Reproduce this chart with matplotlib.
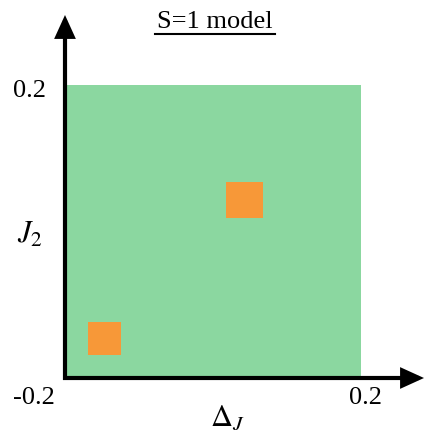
import matplotlib
matplotlib.use("Agg")
import matplotlib.pyplot as plt
from matplotlib.patches import Rectangle, FancyArrowPatch
from matplotlib.lines import Line2D

plt.rcParams["mathtext.fontset"] = "stix"
plt.rcParams["font.family"] = ["Liberation Serif", "DejaVu Serif"]

# Parameter space bounds
x_range = [-0.2, 0.2]
y_range = [-0.2, 0.2]
x_tick_labels = ["-0.2", "0.2"]
y_tick_labels = ["0.2"]

# Highlighted cells: lower-left corners and side lengths
cell_x = [0.017, -0.169]
cell_y = [0.018, -0.168]
cell_size = [0.050, 0.044]

title = "S=1 model"
green = "#8bd7a0"
orange = "#f79838"

W, H = 426, 433
fig = plt.figure(figsize=(W / 100, H / 100), dpi=100)


def fx(px):
    return px / W


def fy(py):
    return 1 - py / H


ax = fig.add_axes([fx(65), fy(378), fx(361) - fx(65), fy(85) - fy(378)])
ax.set_xlim(x_range)
ax.set_ylim(y_range)
ax.axis("off")

ax.add_patch(Rectangle((x_range[0], y_range[0]), x_range[1] - x_range[0],
                       y_range[1] - y_range[0], facecolor=green, edgecolor="none"))
for x0, y0, s in zip(cell_x, cell_y, cell_size):
    ax.add_patch(Rectangle((x0, y0), s, s, facecolor=orange, edgecolor="none"))

# Axis arrows
arrow = dict(arrowstyle="-|>,head_length=1.1,head_width=0.5", color="black",
             lw=3, shrinkA=0, shrinkB=0, mutation_scale=11, joinstyle="miter",
             capstyle="butt")
fig.add_artist(FancyArrowPatch(
    (fx(63), fy(378)), (fx(424), fy(378)), transform=fig.transFigure, **arrow))
fig.add_artist(FancyArrowPatch(
    (fx(65), fy(380)), (fx(65), fy(15)), transform=fig.transFigure, **arrow))

fs = 19
fig.text(fx(29), fy(91), y_tick_labels[0], fontsize=fs, ha="center", va="center")
fig.text(fx(34), fy(398), x_tick_labels[0], fontsize=fs, ha="center", va="center")
fig.text(fx(365), fy(398), x_tick_labels[1], fontsize=fs, ha="center", va="center")

fig.text(fx(30), fy(235), r"$J_{\mathit{2}}$", fontsize=22, ha="center", va="center")
fig.text(fx(228), fy(418), r"$\Delta_J$", fontsize=22, ha="center", va="center")

fig.text(fx(215), fy(22), title, fontsize=fs, ha="center", va="center")
fig.add_artist(Line2D([fx(155), fx(275)], [fy(34), fy(34)], color="black", lw=1.5,
                      transform=fig.transFigure))

fig.savefig("out.png", dpi=100)
